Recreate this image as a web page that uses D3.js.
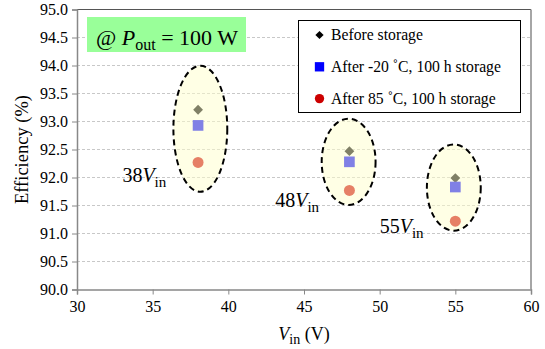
<!DOCTYPE html>
<html>
<head>
<meta charset="utf-8">
<script src="https://cdn.jsdelivr.net/npm/d3@7"></script>
<style>
  body { margin: 0; background: #fff; }
  text { font-family: "Liberation Serif", "Times New Roman", serif; fill: #000; }
</style>
</head>
<body>
<div id="chart"></div>
<script>
// data
var vin = [38, 48, 55];
var before = [93.21, 92.47, 91.99];
var afterCold = [92.93, 92.28, 91.83];
var afterHot = [92.27, 91.77, 91.22];
var seriesNames = ["Before storage", "After -20 \u02DAC, 100 h storage", "After 85 \u02DAC, 100 h storage"];
var xTicks = [30, 35, 40, 45, 50, 55, 60];
var yTicks = [90.0, 90.5, 91.0, 91.5, 92.0, 92.5, 93.0, 93.5, 94.0, 94.5, 95.0];
// highlight ellipses around each group (data units)
var groupX = [38.15, 47.95, 54.9];
var groupY = [92.87, 92.28, 91.82];
var groupRx = [1.78, 1.78, 1.78];
var groupRy = [1.125, 0.77, 0.77];
var groupLabel = ["38", "48", "55"];
var labelX = [33.0, 43.1, 50.0];
var labelY = [91.92, 91.47, 91.01];

var svgWidth = 545, svgHeight = 349;
var margin = {top: 9.5, right: 14, bottom: 59.5, left: 77};
var width = svgWidth - margin.left - margin.right;
var height = svgHeight - margin.top - margin.bottom;

var svg = d3.select("#chart").append("svg")
  .attr("width", svgWidth)
  .attr("height", svgHeight);

var chart = svg.append("g")
  .attr("transform", `translate(${margin.left}, ${margin.top})`);

var x = d3.scaleLinear().domain([30, 60]).range([0, width]);
var y = d3.scaleLinear().domain([90, 95]).range([height, 0]);

// grid lines
chart.selectAll(".grid")
  .data(yTicks.slice(1, -1))
  .enter().append("line")
  .attr("x1", 0).attr("x2", width)
  .attr("y1", d => y(d)).attr("y2", d => y(d))
  .attr("stroke", "#c8c8c8")
  .attr("stroke-dasharray", "3,2");

// frame top / right
chart.append("line").attr("x1", 0).attr("x2", width).attr("y1", 0).attr("y2", 0)
  .attr("stroke", "#555").attr("stroke-width", 1.2);
chart.append("line").attr("x1", width).attr("x2", width).attr("y1", 0).attr("y2", height)
  .attr("stroke", "#888").attr("stroke-width", 1.5);

// axes
var bottom = d3.axisBottom(x).tickValues(xTicks).tickSize(5).tickPadding(6).tickFormat(d3.format("d"));
var left = d3.axisLeft(y).tickValues(yTicks).tickSize(5).tickPadding(4).tickFormat(d3.format(".1f"));

var gx = chart.append("g").attr("transform", `translate(0, ${height})`).call(bottom);
var gy = chart.append("g").call(left);
[gx, gy].forEach(function(g) {
  g.select(".domain").attr("stroke", "#888").attr("stroke-width", 1.5);
  g.selectAll(".tick line").attr("stroke", "#888");
  g.selectAll("text").attr("font-family", "Liberation Serif").attr("font-size", 16).attr("fill", "#000");
});

// markers (diamond = rotated square)
function drawPoints(vals, type, size, color, rot) {
  chart.selectAll(null)
    .data(vals)
    .enter().append("path")
    .attr("d", d3.symbol().type(type).size(size)())
    .attr("transform", (d, i) => `translate(${x(vin[i])}, ${y(d)}) rotate(${rot})`)
    .attr("fill", color);
}
drawPoints(before, d3.symbolSquare, 48, "#000000", 45);
drawPoints(afterCold, d3.symbolSquare, 114, "#0000ff", 0);
drawPoints(afterHot, d3.symbolCircle, 95, "#cc0000", 0);

// ellipses drawn over markers (semi-transparent)
chart.selectAll(".grp")
  .data(groupX)
  .enter().append("ellipse")
  .attr("cx", d => x(d))
  .attr("cy", (d, i) => y(groupY[i]))
  .attr("rx", (d, i) => x(30 + groupRx[i]) - x(30))
  .attr("ry", (d, i) => y(90) - y(90 + groupRy[i]))
  .attr("fill", "#ffffcc")
  .attr("fill-opacity", 0.5)
  .attr("stroke", "#000")
  .attr("stroke-width", 2)
  .attr("stroke-dasharray", "6,4");

// group labels
groupLabel.forEach(function(lab, i) {
  var t = chart.append("text")
    .attr("x", x(labelX[i]))
    .attr("y", y(labelY[i]))
    .attr("font-size", 20);
  t.append("tspan").text(lab);
  t.append("tspan").attr("font-style", "italic").text("V");
  t.append("tspan").attr("font-size", 15).attr("dy", 5).text("in");
});

// condition box
svg.append("rect")
  .attr("x", 87).attr("y", 17).attr("width", 159).attr("height", 35)
  .attr("fill", "#99ff99");
var cond = svg.append("text").attr("x", 96).attr("y", 45).attr("font-size", 22);
cond.append("tspan").text("@ ");
cond.append("tspan").attr("font-style", "italic").text("P");
cond.append("tspan").attr("font-size", 16).attr("dy", 5).text("out");
cond.append("tspan").attr("dy", -5).text(" = 100 W");

// legend
var legend = svg.append("g").attr("transform", "translate(298.5, 20.5)");
legend.append("rect")
  .attr("width", 222).attr("height", 92)
  .attr("fill", "#fff").attr("stroke", "#000").attr("stroke-width", 1);
var legTypes = [d3.symbolSquare, d3.symbolSquare, d3.symbolCircle];
var legColors = ["#000000", "#0000ff", "#cc0000"];
var legSizes = [34, 87, 68];
var legRot = [45, 0, 0];
seriesNames.forEach(function(name, i) {
  var ly = 14.5 + i * 31.8;
  legend.append("path")
    .attr("d", d3.symbol().type(legTypes[i]).size(legSizes[i])())
    .attr("transform", `translate(21, ${ly}) rotate(${legRot[i]})`)
    .attr("fill", legColors[i]);
  legend.append("text")
    .attr("x", 32.5).attr("y", ly + 5)
    .attr("font-size", 15.7)
    .text(name);
});

// axis titles
var xt = svg.append("text")
  .attr("x", margin.left + width / 2)
  .attr("y", 340)
  .attr("text-anchor", "middle")
  .attr("font-size", 18);
xt.append("tspan").attr("font-style", "italic").text("V");
xt.append("tspan").attr("font-size", 14).attr("dy", 4).text("in");
xt.append("tspan").attr("dy", -4).text(" (V)");

svg.append("text")
  .attr("transform", `translate(28, ${margin.top + height / 2}) rotate(-90)`)
  .attr("text-anchor", "middle")
  .attr("font-size", 18.5)
  .text("Efficiency (%)");
</script>
</body>
</html>
